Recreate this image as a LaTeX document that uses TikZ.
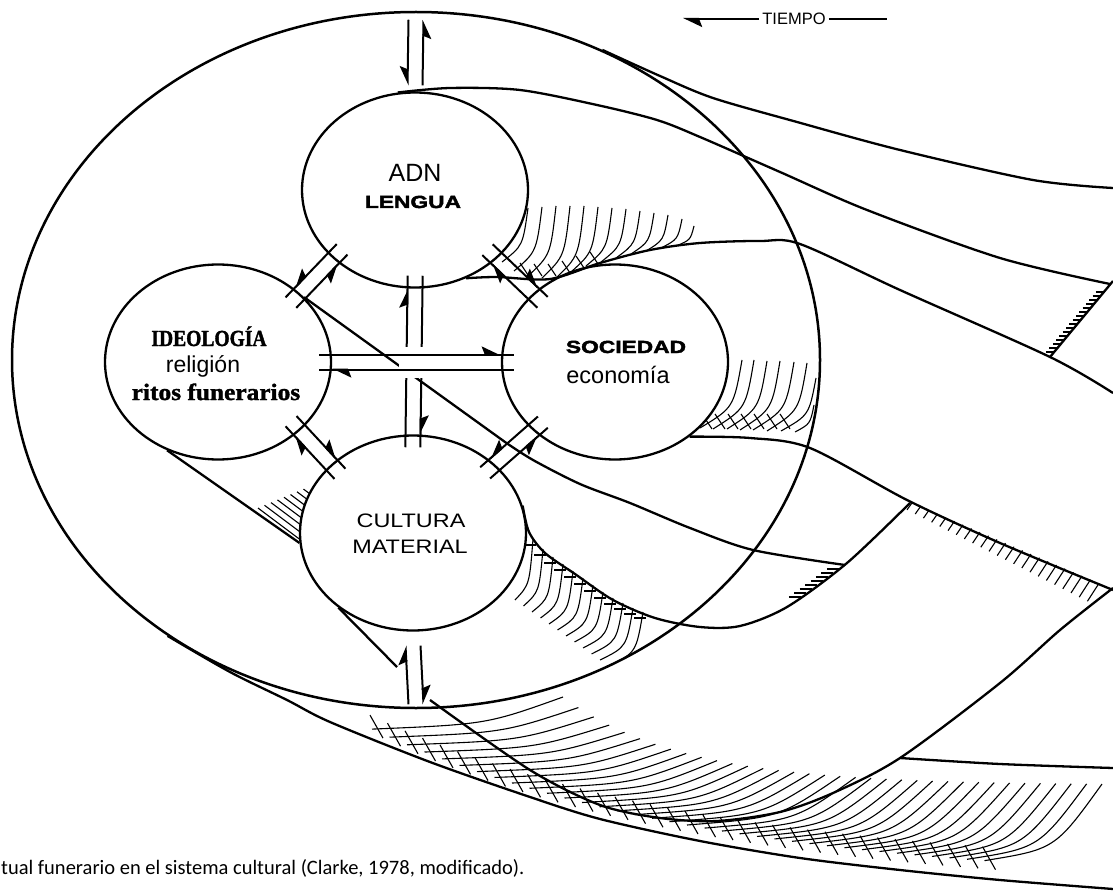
\documentclass[tikz,border=0pt]{standalone}
\usepackage{fontspec}
\setmainfont{Liberation Sans}
\newfontfamily\widefont{Liberation Sans}[UprightFont={* Bold}, FakeStretch=1.3, FakeBold=2.5]
\newfontfamily\spacedfont{Liberation Sans}[FakeStretch=1.2]
\newfontfamily\heavyserif{Liberation Serif}[UprightFont={* Bold}, FakeStretch=1.08, FakeBold=1.5]
\newfontfamily\narrowserif{Liberation Serif}[UprightFont={* Bold}, FakeStretch=0.85, FakeBold=1.5]
\newfontfamily\captionfont{Carlito}
\usetikzlibrary{shapes.geometric, arrows.meta, calc, decorations.markings}

\tikzstyle{ring} = [ellipse, 
draw=black, 
line width=2.3pt, 
fill=white, 
minimum width=226pt, 
minimum height=195pt, 
inner sep=0pt]
\tikzstyle{outer} = [ellipse, 
draw=black, 
line width=2.5pt, 
minimum width=808pt, 
minimum height=696pt, 
inner sep=0pt]
\tikzstyle{flow} = [line width=2.3pt, line join=round]
\tikzstyle{hatch} = [line width=1.1pt]
\tikzstyle{link} = [line width=2pt]
\tikzstyle{barb} = [postaction={decorate}, decoration={markings, mark=at position -13pt with {\arrow{Stealth[harpoon, length=17pt, width=16pt, inset=3pt]}}}]
\tikzstyle{barbswap} = [postaction={decorate}, decoration={markings, mark=at position -13pt with {\arrow{Stealth[harpoon, swap, length=17pt, width=16pt, inset=3pt]}}}]
\tikzstyle{tip} = [-{Stealth[harpoon, length=17pt, width=16pt, inset=3pt]}]
\tikzstyle{tipswap} = [-{Stealth[harpoon, swap, length=17pt, width=16pt, inset=3pt]}]

% two parallel links, one each way
\newcommand{\twoway}[6]{%
  \coordinate (p) at ($(#1)!-13pt!(#2)$);
  \coordinate (q) at ($(#2)!-13pt!(#1)$);
  \draw [link, #5] ($(p)!7.5pt!#3:(q)$) -- ($(q)!7.5pt!#4:(p)$);
  \draw [link, #6] ($(q)!7.5pt!#3:(p)$) -- ($(p)!7.5pt!#4:(q)$);
}

\begin{document}
\begin{tikzpicture}[x=1pt, y=-1pt]
\useasboundingbox (0,0) rectangle (1113,893);

% Hatching
\foreach \bx/\by/\tx/\ty in {502/262/528/208, 514/271/542/207, 528/276/556/206, 542/278/570/206, 556/278/584/206, 571/272/598/207, 586/266/612/208, 601/262/626/209, 616/258/640/211, 631/254/654/213, 646/251/668/215, 661/248/682/219, 676/246/694/226}
  \draw [hatch] (\bx,\by) .. controls ({\bx+0.8*(\tx-\bx)},{\by-0.3*(\by-\ty)}) .. (\tx,\ty);
\foreach \x/\y in {520/277, 534/278, 548/278, 562/275, 576/270, 590/266}
  \draw [hatch] (\x,{\y-14}) -- ({\x+8},{\y-2});

\foreach \bx/\by/\tx/\ty in {700/428/742/360, 713/429/754/360, 727/429/767/361, 740/430/780/361, 753/430/794/362, 767/431/807/363, 781/431/816/378, 795/432/814/405}
  \draw [hatch] (\bx,\by) .. controls ({\bx+0.8*(\tx-\bx)},{\by-0.3*(\by-\ty)}) .. (\tx,\ty);
\foreach \x in {700,713,...,790}
  \draw [hatch] ({\x+2},414) -- ({\x+12},429);

\foreach \tx/\ty [count=\i from 0] in {533/539, 543/549, 553/557, 563/564, 573/571, 583/578, 593/585, 603/592, 613/598, 623/603, 633/608, 643/612} {
  \pgfmathsetmacro\bx{515+8.5*\i}
  \pgfmathsetmacro\by{600+6*\i}
  \draw [hatch] (\tx,\ty) .. controls ({\tx-0.2*(\tx-\bx)},{\ty+0.75*(\by-\ty)}) .. (\bx,\by);
  \draw [hatch] ({\tx-9},{\ty+6}) -- ({\tx+3},{\ty+6});
}

\foreach \k in {0,...,7}
  \draw [hatch] ({258+6.5*\k},{508-2.7*\k}) -- ++(48,36);

\foreach \y in {292,296,...,352} {
  \pgfmathsetmacro\xd{1113-(\y-281)*0.829}
  \draw [hatch] ({\xd-8},\y) -- (\xd,\y);
}

\foreach \i in {0,...,22} {
  \pgfmathsetmacro\tx{912+8.5*\i}
  \pgfmathsetmacro\ty{502+(\tx-910)*0.43}
  \draw [hatch] (\tx,\ty) -- ({\tx-5-0.3*\i},{\ty+7+0.5*\i});
}
\foreach \y in {569,573,...,597} {
  \pgfmathsetmacro\xr{847-(\y-563)*1.36}
  \draw [hatch] ({\xr-12},\y) -- (\xr,\y);
}

\foreach \k in {0,...,35} {
  \pgfmathsetmacro\px{372+17.5*\k}
  \pgfmathsetmacro\py{885-177*exp(-(\px-330)/330)}
  \pgfmathsetmacro\qx{563+15.4*\k}
  \pgfmathsetmacro\qy{785-88*exp(-(\qx-563)/120)}
  \draw [hatch] (\px,\py) .. controls ({\px+0.6*(\qx-\px)},{\py-0.15*(\py-\qy)}) .. (\qx,\qy);
  \draw [hatch] ({\px-2},{\py-14}) -- ({\px+11},{\py+9});
}

% Nodes
\node (world) [outer] at (416,360) {};
\node (adn) [ring] at (415,190) {};
\node (ideo) [ring] at (218,362) {};
\node (soc) [ring] at (615,362) {};
\node (cultura) [ring] at (413,533) {};

% Trails
\draw [flow] plot[smooth] coordinates {(world.59) (660,76) (713,98) (797,122) (900,150) (1033,180) (1113,188)};
\draw [flow] plot[smooth] coordinates {(adn.100) (450,88) (520,90) (597,105) (657,120) (700,137) (780,172) (867,210) (1000,258) (1110,284)};
\draw [flow] (1113,281) -- (1050,357);
\draw [flow] plot[smooth] coordinates {(adn.-60) (497,277) (550,279) (600,263) (650,250) (700,243) (760,241) (800,244) (900,290) (1050,357) (1113,393)};
\draw [flow] plot[smooth] coordinates {(soc.-45) (750,438) (810,448) (907,500) (1000,543) (1113,590)};
\draw [flow] (ideo.37) -- plot[smooth] coordinates {(505,442) (533,460) (580,484) (630,503) (690,528) (753,550) (845,565)};
\draw [flow] plot[smooth] coordinates {(cultura.14) (529,532) (545,553) (575,574) (613,600) (655,618) (700,627) (740,626) (787,607) (847,563) (910,503)};
\draw [flow] (cultura.225) -- (397,667);
\draw [flow] plot[smooth] coordinates {(430,700) (530,770) (600,805) (660,818) (717,821) (780,812) (833,793) (900,758) (1000,683) (1060,630) (1113,588)};
\draw [flow] plot[smooth] coordinates {(900,758) (1000,764) (1113,768)};
\draw [flow] plot[smooth] coordinates {(world.228) (230,672) (287,700) (330,722) (430,762) (530,797) (600,819) (700,841) (800,858) (900,870) (1000,880) (1113,889)};
\draw [flow] (ideo.240) -- (cultura.185);

% Links
\draw [link, tipswap] ([xshift=-7.5pt, yshift=-9pt]world.north) -- ([xshift=-7.5pt, yshift=6pt]adn.north);
\draw [link, tipswap] ([xshift=7.5pt, yshift=6pt]adn.north) -- ([xshift=7.5pt, yshift=-9pt]world.north);
\draw [link, tip] ([xshift=-7.5pt, yshift=5pt]world.south) -- ([xshift=-7.5pt, yshift=-14pt]cultura.south);
\draw [link, tip] ([xshift=7.5pt, yshift=-14pt]cultura.south) -- ([xshift=7.5pt, yshift=5pt]world.south);
\twoway{cultura.north}{adn.south}{90}{-90}{barb}{barb}
\fill [white] (399,347) rectangle (431,378);
\twoway{ideo.east}{soc.west}{90}{-90}{barb}{barb}
\twoway{ideo.40}{adn.220}{-90}{90}{barbswap}{barbswap}
\twoway{soc.140}{adn.-40}{90}{-90}{barb}{barb}
\twoway{ideo.-40}{cultura.140}{90}{-90}{barb}{barb}
\twoway{soc.220}{cultura.40}{-90}{90}{barbswap}{barbswap}

% Labels
\node (adn1) [anchor=base, font=\fontsize{25}{30}\selectfont] at (415,182) {ADN};
\node (adn2) [anchor=base, font=\widefont\fontsize{17.5}{21}\selectfont] at (413,208) {LENGUA};
\node (ideo1) [anchor=base, font=\narrowserif\fontsize{23}{27}\selectfont] at (209,346) {IDEOLOGÍA};
\node (ideo2) [anchor=base, font=\fontsize{23}{27}\selectfont] at (203,372) {religión};
\node (ideo3) [anchor=base, font=\heavyserif\fontsize{23.5}{27}\selectfont] at (216,400) {ritos funerarios};
\node (soc1) [anchor=base, font=\widefont\fontsize{17.5}{21}\selectfont] at (626,353) {SOCIEDAD};
\node (soc2) [anchor=base, font=\fontsize{23.5}{27}\selectfont] at (618,383) {economía};
\node (cult1) [anchor=base, font=\spacedfont\fontsize{19.5}{23}\selectfont] at (411,527) {CULTURA};
\node (cult2) [anchor=base, font=\spacedfont\fontsize{19.5}{23}\selectfont] at (410,553) {MATERIAL};

\node (tiempo) [anchor=base, inner sep=3pt, font=\fontsize{16.5}{19}\selectfont] at (794,25) {TIEMPO};
\coordinate (past) at (683,19);
\coordinate (future) at (887,19);
\draw [link, tip] (tiempo.west |- past) -- (past);
\draw [link] (tiempo.east |- future) -- (future);

\node (caption) [anchor=base west, inner sep=0pt, font=\captionfont\fontsize{20.5}{24}\selectfont] at (1,874) {tual funerario en el sistema cultural (Clarke, 1978, modificado).};

\end{tikzpicture}
\end{document}
